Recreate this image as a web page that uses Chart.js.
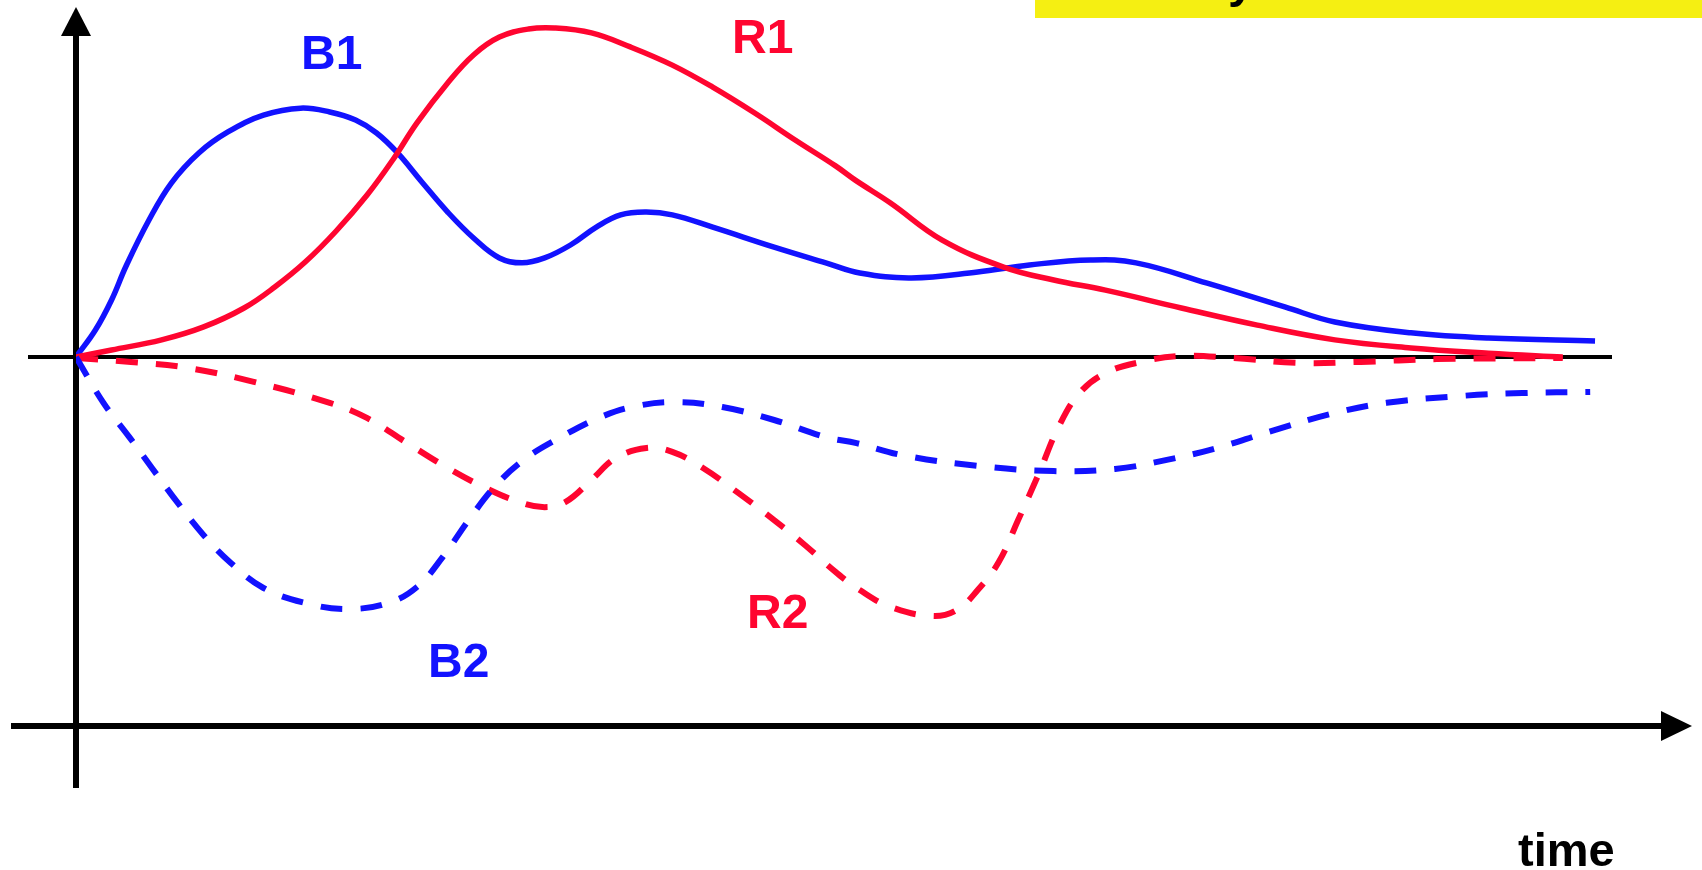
<!DOCTYPE html>
<html>
<head>
<meta charset="utf-8">
<title>B1 R1 B2 R2 over time</title>
<script src="https://cdn.jsdelivr.net/npm/chart.js@4/dist/chart.umd.min.js"></script>
<style>
  html, body { margin: 0; padding: 0; background: #fff; }
  canvas { display: block; }
</style>
</head>
<body>
<canvas id="timeChart" width="1702" height="870"></canvas>
<script>
// values: time 0..100, response in arbitrary units
const timeB1 = [0, 1.2, 2.2, 3.1, 4.5, 5.9, 7.6, 9.4, 11.6, 13.9, 15.7, 17.3, 18.6, 19.9, 21.4, 23.0, 24.6, 26.2, 27.6, 29.0, 30.6, 32.2, 33.7, 35.3, 36.9, 39.4, 43.2, 46.4, 48.5, 51.7, 55.8, 59.0, 62.8, 65.6, 70.0, 74.8, 77.9, 82.6, 87.4, 94.0];
const valB1 = [0, 7.7, 16.3, 26.0, 39.0, 49.7, 58.3, 64.3, 69.1, 71.1, 70.0, 67.7, 64.0, 58.3, 50.0, 41.4, 34.0, 28.3, 26.9, 28.3, 32.0, 37.1, 40.6, 41.4, 40.6, 37.1, 31.4, 26.9, 24.0, 22.6, 24.3, 26.3, 27.7, 26.9, 21.1, 14.3, 10.0, 6.9, 5.4, 4.6];

const timeR1 = [0, 2.2, 5.3, 7.9, 10.4, 12.3, 14.2, 16.1, 18.0, 19.6, 21.1, 23.0, 24.6, 26.2, 28.0, 29.6, 31.9, 34.3, 36.9, 39.4, 42.0, 44.5, 47.0, 48.2, 50.4, 53.6, 57.4, 60.5, 63.7, 68.4, 73.1, 77.9, 82.6, 87.4, 92.0];
const valR1 = [0, 2.0, 4.9, 8.6, 14.0, 20.0, 27.2, 36.0, 46.2, 56.3, 66.9, 78.3, 86.3, 91.4, 93.7, 94.0, 92.6, 88.6, 83.4, 77.1, 69.7, 62.0, 54.6, 50.6, 44.0, 33.4, 25.7, 22.0, 19.1, 14.0, 9.1, 4.9, 2.6, 1.1, 0];

const timeB2 = [0, 1.7, 3.3, 4.7, 6.3, 7.9, 9.6, 11.6, 14.2, 16.8, 19.3, 21.1, 22.7, 24.3, 25.9, 27.7, 30.0, 32.5, 34.7, 37.2, 40.0, 43.2, 46.4, 48.3, 51.1, 55.8, 60.5, 64.3, 67.5, 70.6, 73.8, 77.9, 81.1, 85.8, 89.5, 93.7];
const valB2 = [0, -13.1, -22.9, -31.7, -41.7, -50.9, -58.9, -66.0, -70.3, -72.0, -70.3, -65.7, -57.1, -46.6, -37.1, -29.4, -22.9, -17.1, -14.0, -12.9, -14.3, -18.0, -22.9, -24.6, -28.0, -31.1, -32.6, -32.0, -29.4, -26.0, -21.4, -16.0, -13.1, -11.1, -10.3, -10.0];

const timeR2 = [0, 3.4, 6.9, 11.0, 15.7, 18.0, 20.5, 23.0, 25.2, 27.4, 29.0, 30.3, 31.9, 33.4, 35.3, 36.9, 38.8, 41.0, 43.2, 45.1, 47.0, 48.5, 50.4, 53.0, 54.5, 55.8, 57.1, 58.3, 59.6, 60.8, 62.1, 63.7, 65.9, 68.4, 71.6, 75.7, 79.5, 84.2, 92.0];
const valR2 = [-0.3, -1.4, -3.1, -7.1, -13.1, -17.4, -24.6, -31.7, -37.1, -41.4, -42.9, -41.4, -35.1, -28.9, -26.0, -27.1, -31.7, -38.9, -46.6, -53.7, -61.4, -66.6, -71.4, -74.0, -72.3, -66.6, -58.6, -46.6, -33.1, -20.0, -10.3, -4.6, -1.4, 0.3, -0.3, -1.7, -1.4, -0.6, -0.3];

const BLUE = "#1212ff";
const RED = "#ff0530";

function toPoints(xs, ys) {
  return xs.map((x, i) => ({ x: x, y: ys[i] }));
}

// hand drawn axes with arrow heads, zero line, labels and the cut-off banner
const axesPlugin = {
  id: "axesPlugin",
  beforeDatasetsDraw(chart) {
    const ctx = chart.ctx;
    const xs = chart.scales.x;
    const ys = chart.scales.y;
    const ox = xs.getPixelForValue(0);
    const zy = ys.getPixelForValue(0);
    const area = chart.chartArea;
    ctx.save();
    ctx.strokeStyle = "#000";
    ctx.fillStyle = "#000";

    // zero line
    ctx.lineWidth = 4;
    ctx.beginPath();
    ctx.moveTo(28, zy);
    ctx.lineTo(1612, zy);
    ctx.stroke();

    // vertical axis
    ctx.lineWidth = 6;
    ctx.beginPath();
    ctx.moveTo(ox, 788);
    ctx.lineTo(ox, area.top + 25);
    ctx.stroke();
    ctx.beginPath();
    ctx.moveTo(ox, area.top);
    ctx.lineTo(ox - 15, area.top + 29);
    ctx.lineTo(ox + 15, area.top + 29);
    ctx.closePath();
    ctx.fill();

    // time axis
    const by = area.bottom;
    ctx.beginPath();
    ctx.moveTo(11, by);
    ctx.lineTo(area.right - 28, by);
    ctx.stroke();
    ctx.beginPath();
    ctx.moveTo(area.right, by);
    ctx.lineTo(area.right - 31, by - 15);
    ctx.lineTo(area.right - 31, by + 15);
    ctx.closePath();
    ctx.fill();

    // banner at top right, cut off by the frame
    ctx.fillStyle = "#f5ef12";
    ctx.fillRect(1035, 0, 667, 18);
    ctx.fillStyle = "#000";
    ctx.font = "bold 48px 'Liberation Sans', Arial, sans-serif";
    ctx.textBaseline = "alphabetic";
    ctx.textAlign = "left";
    ctx.fillText("y", 1228, -3);

    // labels
    ctx.fillStyle = BLUE;
    ctx.fillText("B1", 301, 69);
    ctx.fillText("B2", 428, 677);
    ctx.fillStyle = RED;
    ctx.fillText("R1", 732, 53);
    ctx.fillText("R2", 747, 628);
    ctx.fillStyle = "#000";
    ctx.font = "bold 47px 'Liberation Sans', Arial, sans-serif";
    ctx.fillText("time", 1518, 866);
    ctx.restore();
  }
};

new Chart(document.getElementById("timeChart"), {
  type: "line",
  data: {
    datasets: [
      {
        label: "B2",
        data: toPoints(timeB2, valB2),
        borderColor: BLUE,
        borderWidth: 6,
        borderDash: [22, 18],
      },
      {
        label: "R2",
        data: toPoints(timeR2, valR2),
        borderColor: RED,
        borderWidth: 6,
        borderDash: [22, 18],
      },
      {
        label: "R1",
        data: toPoints(timeR1, valR1),
        borderColor: RED,
        borderWidth: 5.5,
      },
      {
        label: "B1",
        data: toPoints(timeB1, valB1),
        borderColor: BLUE,
        borderWidth: 5.5,
      },
    ],
  },
  options: {
    responsive: false,
    animation: false,
    devicePixelRatio: 1,
    layout: { padding: { left: 76, right: 10, top: 7, bottom: 144 } },
    elements: {
      point: { radius: 0, hoverRadius: 0 },
      line: { tension: 0.4, fill: false, borderJoinStyle: "round" },
    },
    scales: {
      x: { type: "linear", min: 0, max: 100, display: false },
      y: { type: "linear", min: -105.43, max: 100, display: false },
    },
    plugins: {
      legend: { display: false },
      tooltip: { enabled: false },
    },
  },
  plugins: [axesPlugin],
});
</script>
</body>
</html>
